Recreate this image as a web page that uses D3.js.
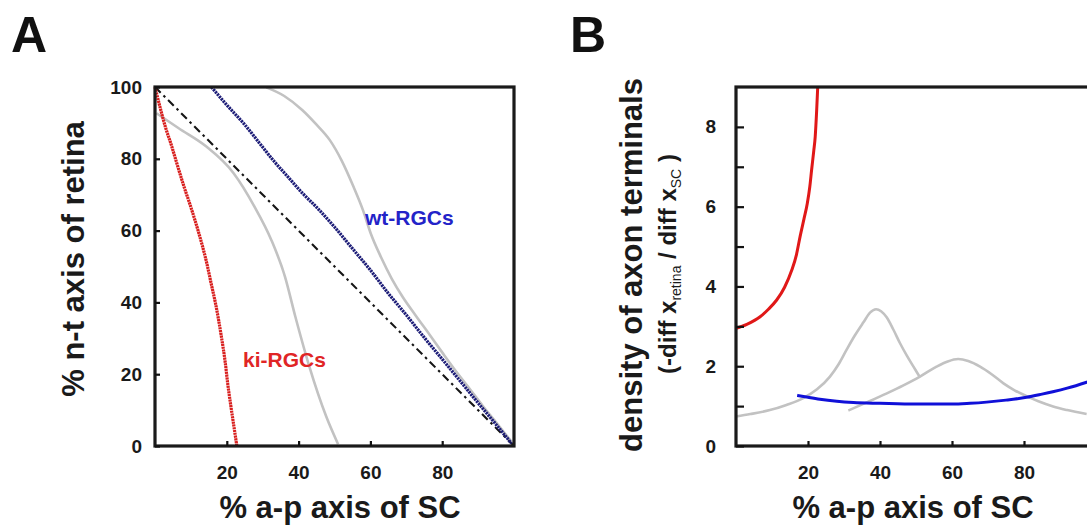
<!DOCTYPE html>
<html><head><meta charset="utf-8">
<script src="https://cdn.jsdelivr.net/npm/d3@7"></script>
<style>
html,body{margin:0;padding:0;background:#fff;}
svg text{font-family:"Liberation Sans",Arial,Helvetica,sans-serif;font-weight:bold;}
</style></head>
<body>
<svg id="chart" width="1087" height="527"></svg>
<script>
// ---------- Panel A data: [% a-p axis of SC, % n-t axis of retina] ----------
const diagonalA = [[0,100],[100,0]];
const wtA = [[15.7,100],[20,95],[25,89.5],[29,84.5],[33,79.5],[37,75],[41,70.5],[45.5,66],[50,61],[55,55],[60,49],[65,42.5],[70,36.5],[75,30.2],[80,24.2],[85,18.1],[90,12],[95,6],[99.3,0.7]];
const kiA = [[0,100],[1.5,94],[3,88.5],[4.5,84],[5.7,80],[8,72.5],[10,66.5],[12,60],[14.4,51],[15.7,45],[16.9,39.5],[18.5,30.4],[19.6,23],[20.3,17],[21,12],[21.9,6],[22.8,0]];
const greyA1 = [[0.4,92.7],[6.6,88.5],[14.3,83.4],[21.9,76],[27.7,66.7],[32.4,57.4],[36.2,47.2],[39.1,36],[43,22.1],[47.7,8.2],[51,0.5]];
const greyA2 = [[31,99.9],[36,97.5],[41,93.6],[45,89.5],[48.7,85.2],[52,79.5],[55.3,72.2],[58,65.5],[60.1,59.2],[63,52.5],[66,46.5],[69,41.5],[72.5,36.5],[76.5,31],[80.2,25.8],[84,20.6],[87.9,15.6],[91.2,11.3],[94.5,7.2],[99.3,1.2]];
const xTicksA = [20,40,60,80];
const yTicksA = [0,20,40,60,80,100];

// ---------- Panel B data: [% a-p axis of SC, density] ----------
const kiB = [[0,2.95],[3,3.05],[6.7,3.24],[9,3.43],[11.3,3.66],[13.5,3.98],[15.5,4.41],[16.8,4.8],[17.8,5.25],[18.9,5.7],[19.8,6.08],[20.5,6.5],[21,6.92],[21.6,7.4],[22,7.75],[22.4,8.4],[22.7,9]];
const wtB = [[17,1.27],[20,1.22],[23.3,1.17],[28,1.12],[32.6,1.09],[40,1.07],[50,1.05],[60,1.05],[65,1.07],[69.6,1.1],[75,1.15],[80.7,1.22],[85,1.3],[88,1.36],[92,1.45],[97.4,1.6],[100,1.68]];
const greyB1 = [[0,0.74],[4,0.8],[9.4,0.9],[14,1.03],[18.7,1.2],[22.5,1.42],[26.1,1.74],[28.5,2.05],[30.7,2.41],[33,2.77],[35.4,3.1],[37.3,3.35],[38.9,3.43],[40.3,3.38],[41.9,3.22],[43.7,2.92],[45.6,2.57],[47.5,2.26],[49.3,1.99],[51.1,1.72]];
const greyB2 = [[31.2,0.89],[36,1.08],[41.9,1.32],[46.5,1.52],[51.1,1.74],[55.7,1.99],[58.8,2.12],[61.7,2.18],[64.5,2.13],[67.8,1.99],[71,1.8],[74.3,1.57],[77.5,1.39],[80.7,1.25],[84,1.12],[88.1,0.99],[92,0.9],[97.4,0.8]];
const yTicksB = [0,1,2,3,4,5,6,7,8];
const yLabelsB = [0,2,4,6,8];
const xTicksB = [20,40,60,80];

const svg = d3.select("#chart");
const font = "'Liberation Sans',Arial,sans-serif";

// ---------------- Panel A ----------------
const xA = d3.scaleLinear().domain([0,100]).range([155,514]);
const yA = d3.scaleLinear().domain([0,100]).range([446,87]);
const lineA = d3.line().x(d=>xA(d[0])).y(d=>yA(d[1])).curve(d3.curveMonotoneX);

const gA = svg.append("g");
gA.append("path").datum(greyA1).attr("d",lineA).attr("fill","none").attr("stroke","#c2c2c2").attr("stroke-width",2.6);
gA.append("path").datum(greyA2).attr("d",lineA).attr("fill","none").attr("stroke","#c2c2c2").attr("stroke-width",2.6);
gA.append("path").datum(diagonalA).attr("d",d3.line().x(d=>xA(d[0])).y(d=>yA(d[1]))).attr("fill","none").attr("stroke","#151515").attr("stroke-width",2.1).attr("stroke-dasharray","8,4,2.5,4");
gA.append("path").datum(wtA).attr("d",lineA).attr("fill","none").attr("stroke","#1e1e78").attr("stroke-width",3.2).attr("stroke-dasharray","2.2,0.8");
gA.append("path").datum(kiA).attr("d",lineA).attr("fill","none").attr("stroke","#d8201f").attr("stroke-width",3.2).attr("stroke-dasharray","2.2,0.6");

// frame and ticks
gA.append("rect").attr("x",xA(0)).attr("y",yA(100)).attr("width",xA(100)-xA(0)).attr("height",yA(0)-yA(100))
  .attr("fill","none").attr("stroke","#1a1a1a").attr("stroke-width",3.2);
const axAy = d3.axisLeft(yA).tickValues(yTicksA).tickSizeInner(-5).tickSizeOuter(0).tickPadding(13).tickFormat(d3.format("d"));
const gyA = gA.append("g").attr("transform",`translate(${xA(0)},0)`).call(axAy);
const axAx = d3.axisBottom(xA).tickValues(xTicksA).tickSizeInner(-5).tickSizeOuter(0).tickPadding(20).tickFormat(d3.format("d"));
const gxA = gA.append("g").attr("transform",`translate(0,${yA(0)})`).call(axAx);
[gyA,gxA].forEach(g=>{
  g.select(".domain").remove();
  g.selectAll(".tick line").attr("stroke","#111").attr("stroke-width",2.2);
  g.selectAll(".tick text").attr("font-size",19).attr("font-family",font).attr("font-weight","bold").attr("fill","#1a1a1a");
});

gA.append("text").attr("x",xA(58.5)).attr("y",yA(61.5)).attr("font-size",21).attr("fill","#2323c8").text("wt-RGCs");
gA.append("text").attr("x",xA(24.5)).attr("y",yA(22)).attr("font-size",21).attr("fill","#e02525").text("ki-RGCs");

svg.append("text").attr("x",11).attr("y",52).attr("font-size",50).attr("fill","#111").text("A");
svg.append("text").attr("transform","translate(84,259) rotate(-90)").attr("text-anchor","middle").attr("font-size",31).attr("fill","#1a1a1a").text("% n-t axis of retina");
svg.append("text").attr("x",340).attr("y",518).attr("text-anchor","middle").attr("font-size",31).attr("fill","#1a1a1a").text("% a-p axis of SC");

// ---------------- Panel B ----------------
const xB = d3.scaleLinear().domain([0,100]).range([736,1096]);
const yB = d3.scaleLinear().domain([0,9]).range([446,87]);
const lineB = d3.line().x(d=>xB(d[0])).y(d=>yB(d[1])).curve(d3.curveMonotoneX);
const gB = svg.append("g");
gB.append("path").datum(greyB1).attr("d",lineB).attr("fill","none").attr("stroke","#c2c2c2").attr("stroke-width",2.6);
gB.append("path").datum(greyB2).attr("d",lineB).attr("fill","none").attr("stroke","#c2c2c2").attr("stroke-width",2.6);
gB.append("path").datum(wtB).attr("d",lineB).attr("fill","none").attr("stroke","#1010d8").attr("stroke-width",3);
gB.append("path").datum(kiB).attr("d",lineB).attr("fill","none").attr("stroke","#e01818").attr("stroke-width",3);

gB.append("rect").attr("x",xB(0)).attr("y",yB(9)).attr("width",xB(100)-xB(0)).attr("height",yB(0)-yB(9))
  .attr("fill","none").attr("stroke","#1a1a1a").attr("stroke-width",3.2);
const axBy = d3.axisLeft(yB).tickValues(yTicksB).tickSizeInner(-8).tickSizeOuter(0).tickPadding(20)
  .tickFormat(d=>yLabelsB.includes(d)?d:"");
const gyB = gB.append("g").attr("transform",`translate(${xB(0)},0)`).call(axBy);
const axBx = d3.axisBottom(xB).tickValues(xTicksB).tickSizeInner(-5).tickSizeOuter(0).tickPadding(20).tickFormat(d3.format("d"));
const gxB = gB.append("g").attr("transform",`translate(0,${yB(0)})`).call(axBx);
[gyB,gxB].forEach(g=>{
  g.select(".domain").remove();
  g.selectAll(".tick line").attr("stroke","#111").attr("stroke-width",2.2);
  g.selectAll(".tick text").attr("font-size",19).attr("font-family",font).attr("font-weight","bold").attr("fill","#1a1a1a");
});

svg.append("text").attr("x",570).attr("y",52).attr("font-size",50).attr("fill","#111").text("B");
svg.append("text").attr("transform","translate(642,265) rotate(-90)").attr("text-anchor","middle").attr("font-size",31).attr("fill","#1a1a1a").text("density of axon terminals");
const t2 = svg.append("text").attr("transform","translate(676,264) rotate(-90)").attr("text-anchor","middle").attr("font-size",24).attr("fill","#1a1a1a");
t2.append("tspan").text("(-diff x");
t2.append("tspan").attr("font-size",14).attr("font-weight","normal").attr("dy",5).text("retina");
t2.append("tspan").attr("dy",-5).text(" / diff x");
t2.append("tspan").attr("font-size",14).attr("font-weight","normal").attr("dy",5).text("SC");
t2.append("tspan").attr("dy",-5).text(" )");
svg.append("text").attr("x",913).attr("y",518).attr("text-anchor","middle").attr("font-size",31).attr("fill","#1a1a1a").text("% a-p axis of SC");
</script>
</body></html>
